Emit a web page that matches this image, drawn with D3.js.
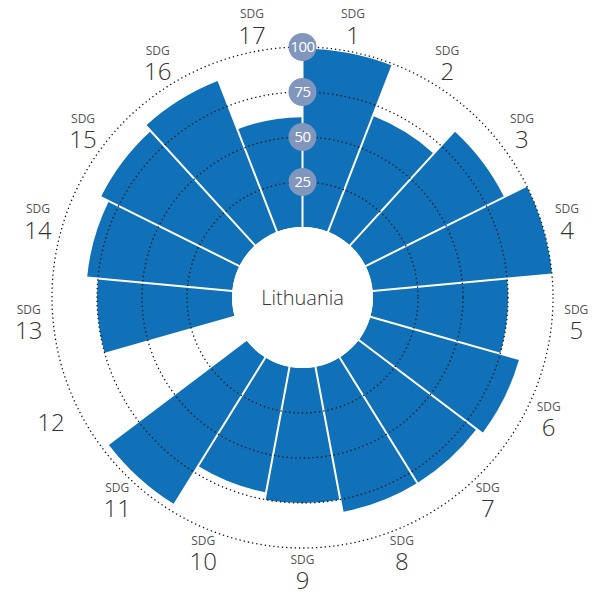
<!DOCTYPE html>
<html>
<head>
<meta charset="utf-8">
<script src="https://cdn.jsdelivr.net/npm/d3@7"></script>
<style>
  html, body { margin: 0; padding: 0; background: #fff; }
  svg { display: block; font-family: "Open Sans", "Noto Sans", sans-serif; }
</style>
</head>
<body>
<div id="chart"></div>
<script>
// --- Data ---
const country = "Lithuania";
const goals = [1, 2, 3, 4, 5, 6, 7, 8, 9, 10, 11, 12, 13, 14, 15, 16, 17];
const scores = [99, 69, 86, 100, 75, 86, 82, 82, 75, 71, 96, null, 75, 81, 86, 90, 61];
const ringTicks = [25, 50, 75, 100];

const width = 600, height = 594;
const cx = 302.5, cy = 297.5;
const innerR = 70.5, outerR = 250.5;
const labelR = 275;

const barColor = "#1071b8";
const tickFill = "#8196bc";

const svg = d3.select("#chart").append("svg")
    .attr("width", width)
    .attr("height", height);

const g = svg.append("g").attr("transform", `translate(${cx},${cy})`);

// radial scale for score -> radius
const r = d3.scaleLinear().domain([0, 100]).range([innerR, outerR]);

// one slot per goal, clockwise from the top
const angle = d3.scaleBand()
    .domain(goals)
    .range([0, 2 * Math.PI]);

const arc = d3.arc()
    .innerRadius(innerR)
    .outerRadius(d => r(d.value))
    .startAngle(d => angle(d.goal))
    .endAngle(d => angle(d.goal) + angle.bandwidth())
    .padAngle(0.02)
    .padRadius(100);

const data = goals.map((goal, i) => ({ goal, value: scores[i] }));

// bars
g.append("g").selectAll("path")
    .data(data.filter(d => d.value != null))
    .join("path")
    .attr("d", arc)
    .attr("fill", barColor);

// dotted rings, drawn on top of the bars
g.append("g").selectAll("circle")
    .data(ringTicks)
    .join("circle")
    .attr("r", d => r(d))
    .attr("fill", "none")
    .attr("stroke", "#111")
    .attr("stroke-width", 1.3)
    .attr("stroke-dasharray", "1.3,3");

// white hole in the middle
g.append("circle")
    .attr("r", innerR)
    .attr("fill", "#fff");

g.append("text")
    .attr("text-anchor", "middle")
    .attr("dy", "0.35em")
    .attr("fill", "#333")
    .style("font-size", "20px")
    .style("font-weight", 300)
    .text(country);

// ring value badges along the vertical axis
const badges = g.append("g").selectAll("g")
    .data(ringTicks)
    .join("g")
    .attr("transform", d => `translate(0,${-r(d)})`);

badges.append("circle")
    .attr("r", 14)
    .attr("fill", tickFill);

badges.append("text")
    .attr("text-anchor", "middle")
    .attr("dy", "0.36em")
    .attr("fill", "#fff")
    .style("font-size", "15px")
    .style("letter-spacing", "-0.6px")
    .text(d => d);

// goal labels around the outside (a goal without a score gets only its number)
const labels = g.append("g").selectAll("g")
    .data(data)
    .join("g")
    .attr("transform", d => {
        const a = angle(d.goal) + angle.bandwidth() / 2;
        const rr = d.value == null ? labelR + 6 : labelR;
        return `translate(${rr * Math.sin(a)},${-rr * Math.cos(a)})`;
    });

labels.filter(d => d.value != null).append("text")
    .attr("text-anchor", "middle")
    .attr("y", -13)
    .attr("dy", "0.35em")
    .attr("fill", "#555")
    .style("font-size", "12px")
    .text("SDG");

labels.append("text")
    .attr("text-anchor", "middle")
    .attr("y", d => d.value == null ? 0 : 8)
    .attr("dy", "0.35em")
    .attr("fill", "#333")
    .style("font-size", "24px")
    .style("font-weight", 300)
    .text(d => d.goal);
</script>
</body>
</html>
